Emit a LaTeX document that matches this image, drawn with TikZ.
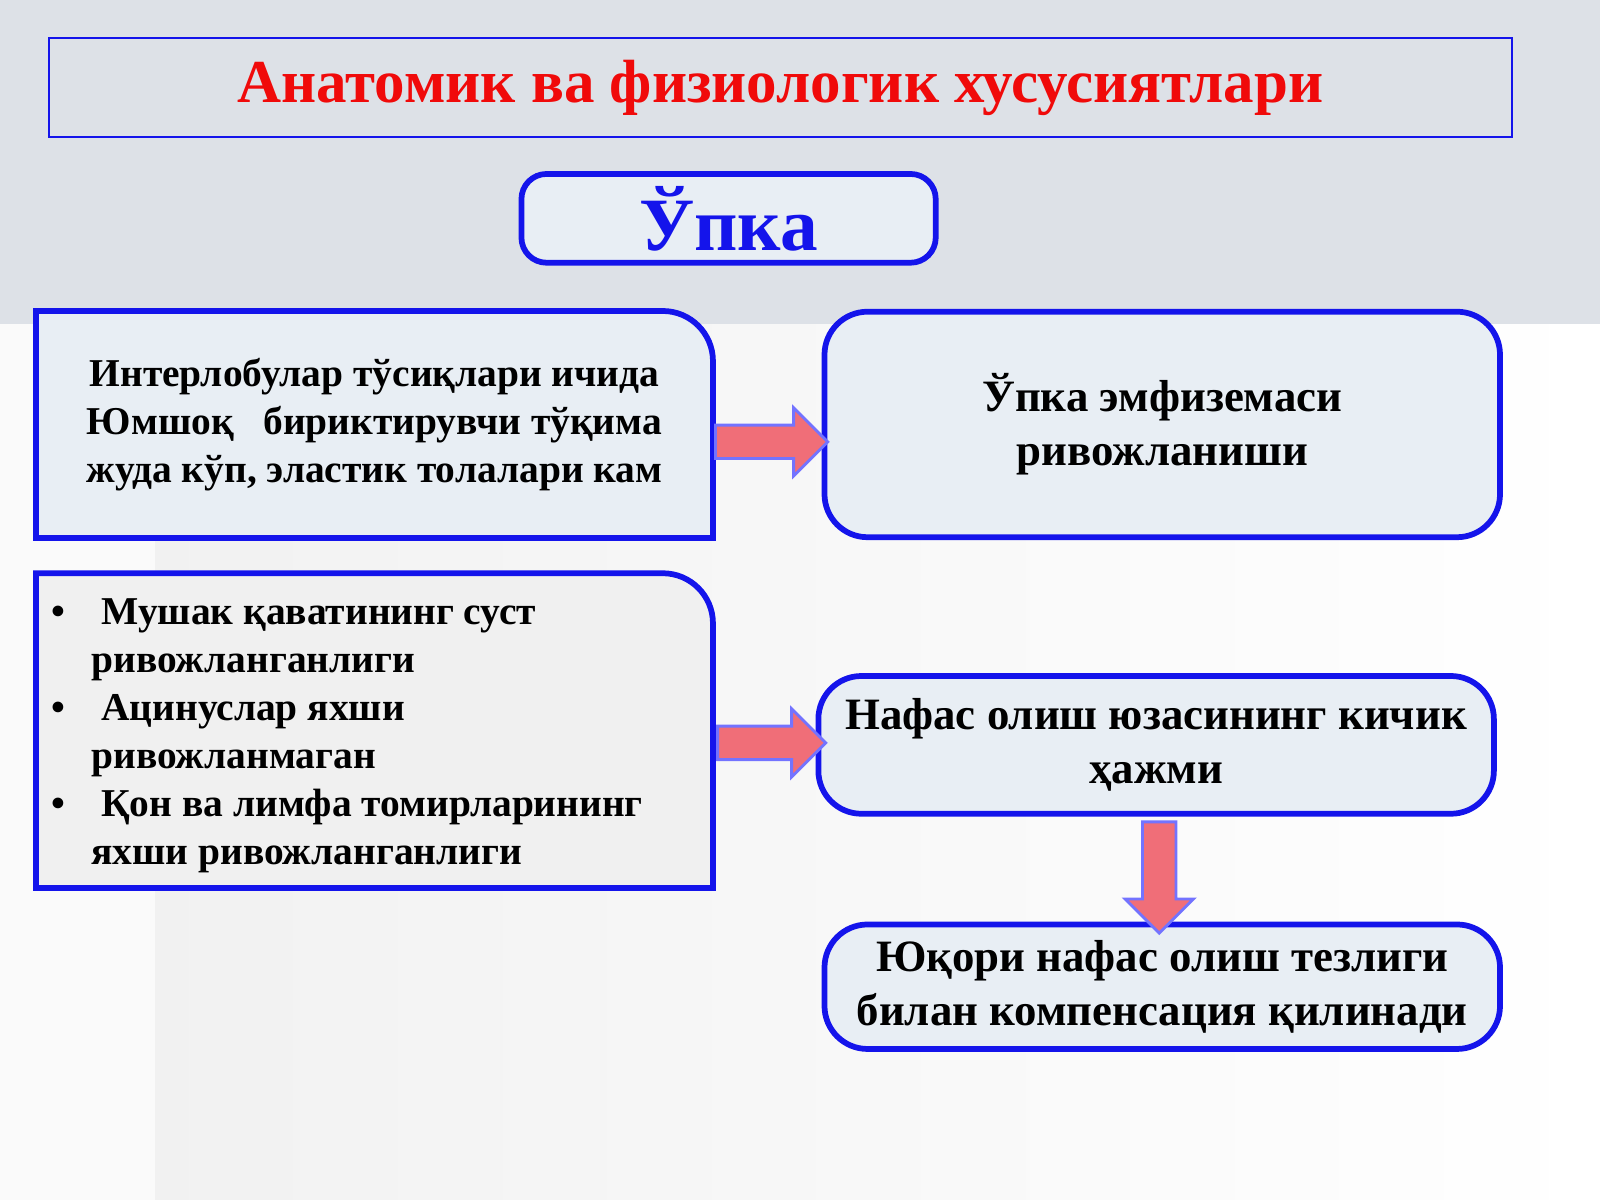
\documentclass[tikz,border=0pt]{standalone}
\usepackage{fontspec}
\setmainfont{Liberation Serif}
\usetikzlibrary{shapes.arrows,calc}
\definecolor{boxblue}{RGB}{20,20,235}
\definecolor{titlered}{RGB}{240,10,10}
\definecolor{arrowpink}{RGB}{240,110,120}
\definecolor{topgray}{RGB}{221,225,231}
\definecolor{boxfill}{RGB}{232,238,244}
\tikzset{
  box/.style={rectangle,draw=boxblue,line width=1.6pt,fill=boxfill,
    minimum width=6.62cm,align=center,font=\bfseries\fontsize{12.5}{15}\selectfont},
  flow/.style={single arrow,draw=blue!55,fill=arrowpink,line width=0.8pt,
    minimum width=0.64cm,single arrow head extend=0.17cm,single arrow head indent=0cm,
    inner xsep=0pt,inner ysep=0.15cm}
}
\begin{document}
\begin{tikzpicture}
  \useasboundingbox (0,0) rectangle (15.68,11.76);
  % background
  \fill[left color=gray!12,right color=white] (0,0) rectangle (15.68,8.58);
  \fill[white!96!gray] (0,0) rectangle (1.52,8.58);
  \fill[topgray] (0,8.58) rectangle (15.68,11.76);

  % title
  \node[draw=boxblue,line width=0.6pt,minimum width=14.34cm,minimum height=0.97cm,
    text=titlered,font=\bfseries\fontsize{17}{20}\selectfont] (title) at (7.65,10.90)
    {Анатомик ва физиологик хусусиятлари};
  \node[box,rounded corners=7pt,minimum width=4.06cm,minimum height=0.87cm,
    text=boxblue,font=\bfseries\fontsize{21}{24}\selectfont] (upka) at (7.14,9.62) {Ўпка};

  % left boxes (only top right corner rounded)
  \node[minimum width=6.62cm,minimum height=2.21cm] (inter) at (3.67,7.60) {};
  \fill[boxfill,draw=boxblue,line width=1.6pt] (inter.south west) -- (inter.north west)
    [rounded corners=14pt] -- (inter.north east) [sharp corners] -- (inter.south east) -- cycle;
  \node[align=center,font=\bfseries\fontsize{11}{13.4}\selectfont] at (inter)
    {Интерлобулар тўсиқлари ичида\\Юмшоқ\ \ \ бириктирувчи тўқима\\жуда кўп, эластик толалари кам};

  \node[minimum width=6.62cm,minimum height=3.07cm] (mushak) at (3.67,4.60) {};
  \fill[gray!12,draw=boxblue,line width=1.6pt] (mushak.south west) -- (mushak.north west)
    [rounded corners=14pt] -- (mushak.north east) [sharp corners] -- (mushak.south east) -- cycle;
  \node[anchor=north west,align=left,inner sep=0pt,
    font=\bfseries\fontsize{11}{13.4}\selectfont] at (0.50,5.90)
    {\makebox[0.39cm][l]{•}\ Мушак қаватининг суст\\\hspace{0.39cm}ривожланганлиги\\
     \makebox[0.39cm][l]{•}\ Ацинуслар яхши\\\hspace{0.39cm}ривожланмаган\\
     \makebox[0.39cm][l]{•}\ Қон ва лимфа томирларининг\\\hspace{0.39cm}яхши ривожланганлиги};

  % right boxes
  \node[box,rounded corners=12pt,minimum height=2.21cm] (emf) at (11.39,7.60)
    {Ўпка эмфиземаси\\ривожланиши};
  \node[box,rounded corners=12pt,minimum height=1.35cm] (nafas) at (11.33,4.46)
    {Нафас олиш юзасининг кичик\\ҳажми};
  \node[box,rounded corners=12pt,minimum height=1.22cm] (yuqori) at (11.39,2.09)
    {Юқори нафас олиш тезлиги\\билан компенсация қилинади};

  % block arrows
  \node[flow,minimum height=1.10cm] (a1) at (7.48,7.43) {};
  \node[flow,minimum height=1.06cm] (a2) at (7.48,4.48) {};
  \node[flow,minimum height=1.09cm,rotate=-90] (a3)
    at ($(nafas.south)!0.5!(yuqori.north)$) {};
\end{tikzpicture}
\end{document}
